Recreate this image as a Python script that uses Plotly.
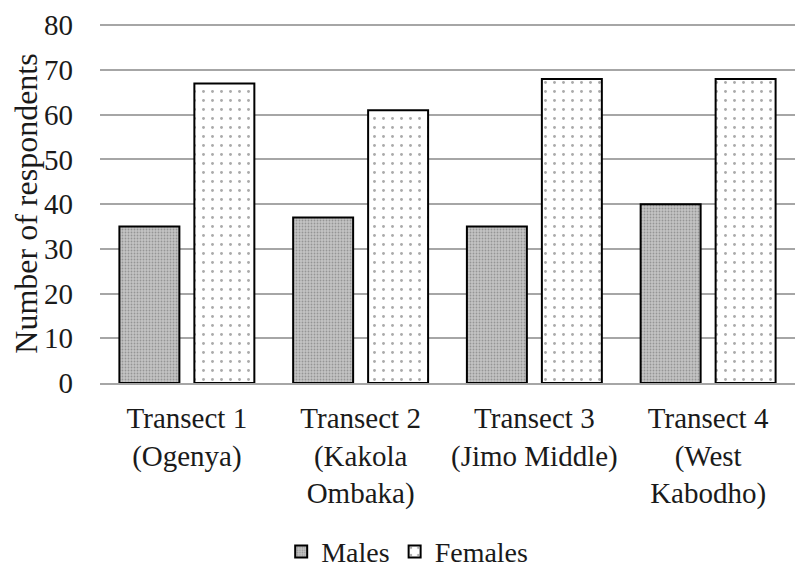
import plotly.graph_objects as go

categories = ["Transect 1<br>(Ogenya)", "Transect 2<br>(Kakola<br>Ombaka)",
              "Transect 3<br>(Jimo Middle)", "Transect 4<br>(West<br>Kabodho)"]
males = [35, 37, 35, 40]
females = [67, 61, 68, 68]
y_ticks = [0, 10, 20, 30, 40, 50, 60, 70, 80]

font = "Liberation Serif, Times New Roman, serif"

fig = go.Figure()
fig.add_trace(go.Bar(
    x=categories, y=males, name="Males",
    marker=dict(color="#c0c0c0", line=dict(color="black", width=2),
                pattern=dict(shape=".", fgcolor="#666666", bgcolor="#c4c4c4", size=3, solidity=0.3)),
))
fig.add_trace(go.Bar(
    x=categories, y=females, name="Females",
    marker=dict(color="white", line=dict(color="black", width=2),
                pattern=dict(shape=".", fgcolor="#555555", bgcolor="white", size=9, solidity=0.08)),
))

fig.update_layout(
    width=796, height=561,
    margin=dict(l=92, r=9, t=16, b=186, autoexpand=False),
    paper_bgcolor="white", plot_bgcolor="white",
    barmode="group", bargap=0.137, bargroupgap=0.2,
    font=dict(family=font, size=28, color="#1a1a1a"),
    showlegend=True,
    legend=dict(orientation="h", x=0.442, xanchor="center", y=-0.47, yanchor="middle",
                font=dict(size=28), itemwidth=30, tracegroupgap=0),
    xaxis=dict(showline=True, linecolor="#a6a6a6", linewidth=2, ticks="",
               tickfont=dict(size=29), ticklabelstandoff=8, automargin=False),
    yaxis=dict(range=[0, 80.3], tickvals=y_ticks, showgrid=True, gridcolor="#a6a6a6",
               gridwidth=2, zeroline=False, tickfont=dict(size=29), ticks="",
               ticklabelstandoff=26, automargin=False, ticklabeloverflow="allow",
               title=dict(text="Number of respondents", font=dict(size=32), standoff=10)),
)

fig.write_html("out.html")
